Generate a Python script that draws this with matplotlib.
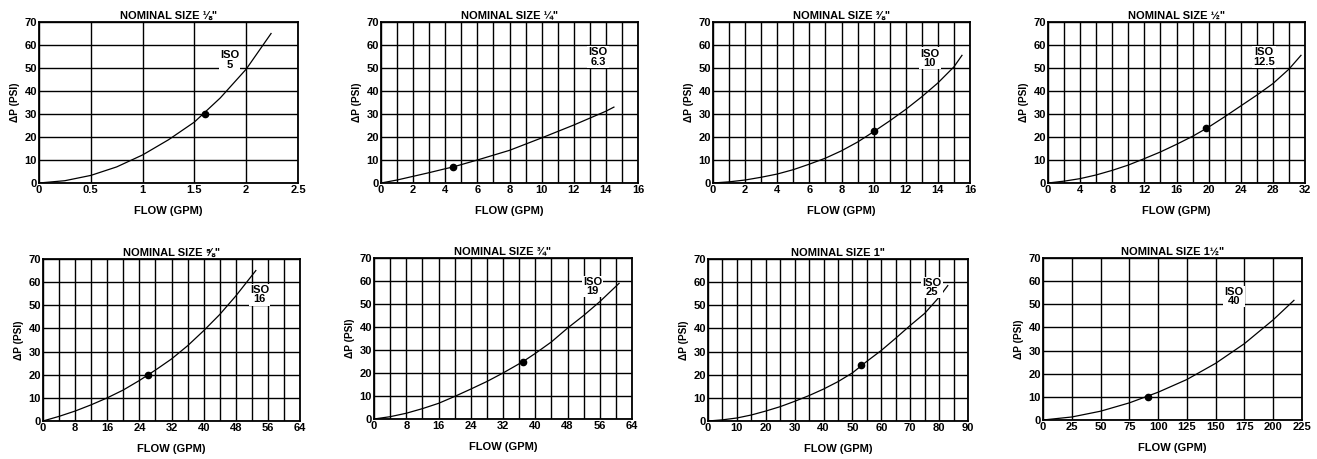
"""Pressure drop vs flow charts for eight nominal sizes."""

import matplotlib
matplotlib.use("Agg")
import matplotlib.pyplot as plt
import numpy as np

plt.rcParams["font.family"] = ["Liberation Sans", "DejaVu Sans"]
plt.rcParams["font.weight"] = "bold"

# --- data ------------------------------------------------------------------
size_labels = ["⅛\"", "¼\"", "⅜\"", "½\"", "⅝\"", "¾\"", "1\"", "1½\""]
iso_labels = ["5", "6.3", "10", "12.5", "16", "19", "25", "40"]

flow_18 = [0, 0.25, 0.5, 0.75, 1.0, 1.25, 1.5, 1.75, 2.0, 2.24]
dp_18 = [0, 1.0, 3.3, 7.0, 12.2, 18.8, 26.5, 37.0, 49.5, 65.0]

flow_14 = [0, 1, 2, 3, 4, 4.5, 6, 8, 10, 12, 14, 14.5]
dp_14 = [0, 1.3, 2.9, 4.5, 6.2, 7.0, 10.0, 14.2, 19.6, 25.2, 31.2, 33.0]

flow_38 = [0, 1, 2, 3, 4, 5, 6, 7, 8, 9, 10, 11, 12, 13, 14, 15, 15.5]
dp_38 = [0, 0.5, 1.3, 2.5, 3.9, 5.8, 8.2, 10.8, 14.0, 17.8, 22.3, 27.0,
         32.0, 37.5, 43.5, 50.5, 55.5]

flow_12 = [0, 2, 4, 6, 8, 10, 12, 14, 16, 18, 20, 22, 24, 26, 28, 30, 31.5]
dp_12 = [0, 0.8, 1.9, 3.5, 5.5, 7.8, 10.6, 13.5, 16.8, 20.3, 24.3, 28.8,
         33.5, 38.2, 43.2, 49.5, 55.5]

flow_58 = [0, 4, 8, 12, 16, 20, 24, 28, 32, 36, 40, 44, 48, 53]
dp_58 = [0, 2.0, 4.3, 7.0, 10.0, 13.4, 17.5, 22.0, 26.8, 32.5, 39.0, 46.0,
         54.0, 65.0]

flow_34 = [0, 4, 8, 12, 16, 20, 24, 28, 32, 37, 40, 44, 48, 52, 56, 60.8]
dp_34 = [0, 1.0, 2.5, 4.5, 6.8, 9.8, 13.0, 16.3, 20.0, 25.0, 28.5, 33.5,
         39.5, 45.0, 51.0, 59.0]

flow_1 = [0, 5, 10, 15, 20, 25, 30, 35, 40, 45, 50, 55, 60, 65, 70, 75, 80, 83]
dp_1 = [0, 0.5, 1.3, 2.6, 4.3, 6.2, 8.5, 11.0, 13.8, 17.0, 20.8, 25.8,
        30.5, 35.8, 41.3, 46.5, 53.5, 58.5]

flow_112 = [0, 25, 50, 75, 100, 125, 150, 175, 200, 218]
dp_112 = [0, 1.3, 3.8, 7.4, 12.0, 17.5, 24.5, 33.0, 43.3, 51.7]

rated_flow = [1.6, 4.5, 10, 19.7, 26.2, 37, 53, 91]
rated_dp = [30, 7, 22.5, 24, 20, 25, 24, 10]

x_max = [2.5, 16, 16, 32, 64, 64, 90, 225]
x_label_step = [0.5, 2, 2, 4, 8, 8, 10, 25]
x_grid_step = [0.5, 1, 1, 2, 4, 4, 5, 25]
label_pos = [(1.84, 53.5), (13.5, 54.8), (13.5, 54.3), (26.9, 54.8),
             (53.9, 54.5), (54.2, 57.5), (77.6, 57.7), (166, 53.4)]

flows = [flow_18, flow_14, flow_38, flow_12, flow_58, flow_34, flow_1, flow_112]
drops = [dp_18, dp_14, dp_38, dp_12, dp_58, dp_34, dp_1, dp_112]

# axes boxes in pixels: left, right, top, bottom
boxes = [(39, 298, 22, 183), (381, 638, 22, 183), (713, 970, 22, 183),
         (1048, 1305, 22, 183), (43, 300, 259, 421), (374, 632, 258, 419),
         (708, 968, 259, 421), (1043, 1302, 258, 420)]

W, H = 1317, 459


def fmt_tick(value):
    """Format tick values without trailing zeros."""
    if float(value).is_integer():
        return str(int(value))
    return f"{value:g}"


fig = plt.figure(figsize=(W / 100, H / 100), dpi=100)

for i in range(8):
    left, right, top, bottom = boxes[i]
    ax = fig.add_axes([left / W, 1 - bottom / H, (right - left) / W, (bottom - top) / H])

    ax.set_xlim(0, x_max[i])
    ax.set_ylim(0, 70)

    major = np.arange(0, x_max[i] + 1e-9, x_label_step[i])
    minor = np.arange(0, x_max[i] + 1e-9, x_grid_step[i])
    ax.set_xticks(major)
    ax.set_xticklabels([fmt_tick(v) for v in major])
    ax.set_xticks(minor, minor=True)
    ax.set_yticks(np.arange(0, 71, 10))

    ax.grid(True, which="both", color="black", linewidth=1.0)
    ax.set_axisbelow(True)
    ax.tick_params(which="both", length=0, labelsize=8, pad=1.5)
    for lbl in ax.get_xticklabels() + ax.get_yticklabels():
        lbl.set_fontweight("bold")

    for spine in ax.spines.values():
        spine.set_linewidth(1.3)
        spine.set_color("black")

    ax.plot(flows[i], drops[i], color="black", linewidth=0.9, zorder=2)
    ax.plot(rated_flow[i], rated_dp[i], "o", color="black", markersize=4.5, zorder=4)

    lx, ly = label_pos[i]
    ax.text(lx, ly, f"ISO\n{iso_labels[i]}", ha="center", va="center",
            fontsize=8, fontweight="bold", linespacing=0.9, zorder=3,
            bbox=dict(facecolor="white", edgecolor="none", pad=0.8))

    ax.set_title(f"NOMINAL SIZE {size_labels[i]}", fontsize=8,
                 fontweight="bold", pad=2.5)
    ax.set_xlabel("FLOW (GPM)", fontsize=8, fontweight="bold", labelpad=8)
    ax.set_ylabel("ΔP (PSI)", fontsize=7.3, fontweight="bold", labelpad=3)

fig.savefig("out.png", dpi=100)
